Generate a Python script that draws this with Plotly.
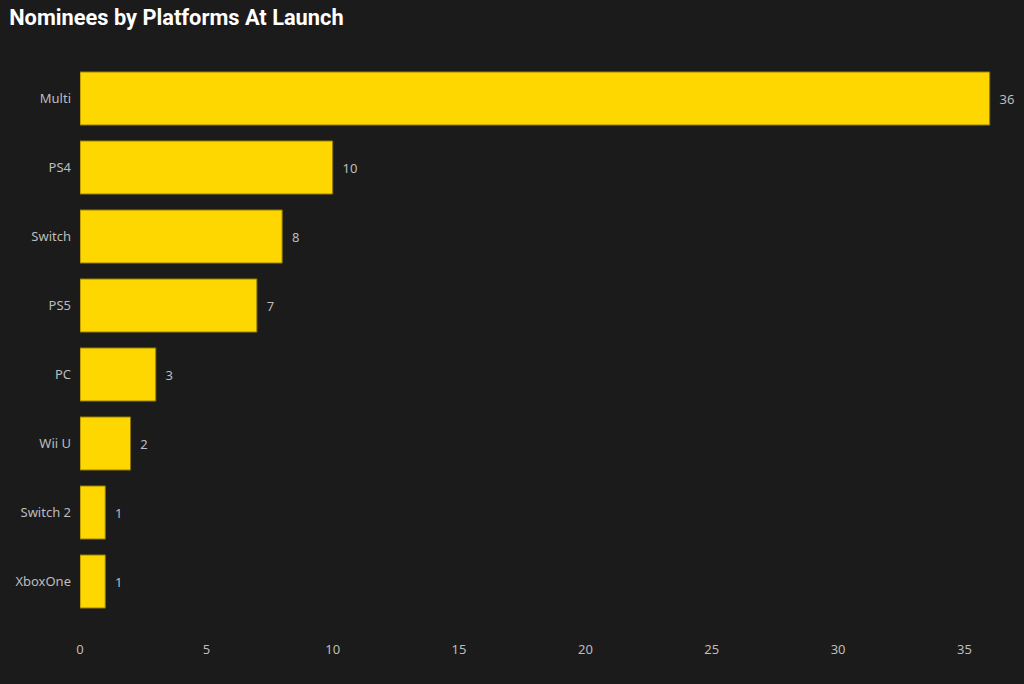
import plotly.graph_objects as go

platforms = ['Multi', 'PS4', 'Switch', 'PS5', 'PC', 'Wii U', 'Switch 2', 'XboxOne']
nominees = [36, 10, 8, 7, 3, 2, 1, 1]

bg = '#1b1b1b'
txt = '#bdbdbd'

fig = go.Figure(go.Bar(
    x=nominees,
    y=platforms,
    orientation='h',
    marker=dict(color='#FFD700', line=dict(color='#8a7400', width=1)),
    text=nominees,
    texttemplate='\u00a0\u00a0%{x}',
    textposition='outside',
    textfont=dict(color=txt, size=13, family='Noto Sans'),
    cliponaxis=False,
    hoverinfo='x+y',
))

fig.update_layout(
    width=1024, height=684,
    paper_bgcolor=bg, plot_bgcolor=bg,
    title=dict(text='Nominees by Platforms At Launch', x=0.009, xanchor='left',
               y=0.975, yanchor='middle',
               font=dict(family='Roboto', size=21.8, color='white', weight='bold')),
    margin=dict(l=80, r=9, t=64, b=68),
    bargap=0.23,
    font=dict(family='Noto Sans', color=txt, size=13),
    showlegend=False,
)
fig.update_xaxes(range=[0, 37], tickvals=[0, 5, 10, 15, 20, 25, 30, 35],
                 showgrid=False, zeroline=False, showline=False,
                 ticklabelstandoff=24, tickfont=dict(size=13, color=txt))
fig.update_yaxes(autorange='reversed', showgrid=False, zeroline=False,
                 ticklabelstandoff=8, tickfont=dict(size=13, color=txt))

# drop the page margin so the chart fills the window
fig.write_html('out.html', config={'displayModeBar': False},
               post_script="document.body.style.margin='0';document.body.style.background='#1b1b1b';")
